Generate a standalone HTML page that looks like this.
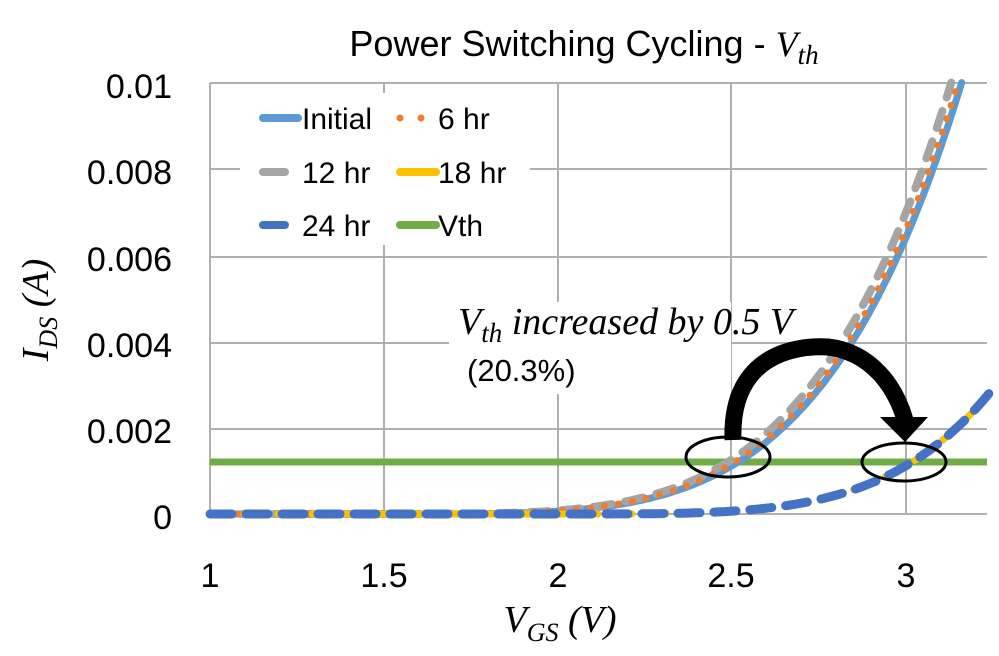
<!DOCTYPE html>
<html><head><meta charset="utf-8"><style>
html,body{margin:0;padding:0;background:#fff;}
svg{display:block}
.t{font-family:"Liberation Sans Narrow","Liberation Sans",sans-serif;fill:#000}
.s{font-family:"Liberation Serif",serif;font-style:italic;fill:#000}
</style></head><body>
<svg id="c" width="999" height="656" viewBox="0 0 999 656" xmlns="http://www.w3.org/2000/svg">
<rect width="999" height="656" fill="#fff"/>
<g stroke="#b0b0b0" stroke-width="2">
<line x1="210" y1="83" x2="987" y2="83"/>
<line x1="210" y1="169" x2="987" y2="169"/>
<line x1="210" y1="257" x2="987" y2="257"/>
<line x1="210" y1="343" x2="987" y2="343"/>
<line x1="210" y1="429" x2="987" y2="429"/>
<line x1="210" y1="514" x2="987" y2="514"/>
<line x1="210" y1="83" x2="210" y2="514"/>
<line x1="384" y1="83" x2="384" y2="514"/>
<line x1="558" y1="83" x2="558" y2="514"/>
<line x1="731" y1="83" x2="731" y2="514"/>
<line x1="906" y1="83" x2="906" y2="514"/>
</g>
<rect x="240" y="93" width="290" height="152" fill="#fff"/>
<rect x="449" y="302" width="282" height="92" fill="#fff"/>
<line x1="210" y1="462" x2="987" y2="462" stroke="#70ad47" stroke-width="7"/>
<g id="curves" fill="none" stroke-width="7"></g>
<path d="M733,440 C730,355 795,345 828,347 C870,352 895,385 905,420" fill="none" stroke="#000" stroke-width="17"/>
<polygon points="880,417 928,417 905,442" fill="#000"/>
<ellipse cx="728" cy="457" rx="42" ry="20" fill="none" stroke="#000" stroke-width="3"/>
<ellipse cx="904" cy="462" rx="42" ry="19" fill="none" stroke="#000" stroke-width="3"/>
<text x="584" y="56" class="t" font-size="36" text-anchor="middle">Power Switching Cycling - <tspan class="s">V</tspan><tspan class="s" font-size="27" dy="8">th</tspan></text>
<g class="t" font-size="34" text-anchor="end">
<text x="172" y="98">0.01</text>
<text x="172" y="184">0.008</text>
<text x="172" y="271">0.006</text>
<text x="172" y="357">0.004</text>
<text x="172" y="443">0.002</text>
<text x="172" y="529">0</text>
</g>
<g class="t" font-size="34" text-anchor="middle">
<text x="210" y="587">1</text>
<text x="384" y="587">1.5</text>
<text x="558" y="587">2</text>
<text x="731" y="587">2.5</text>
<text x="906" y="587">3</text>
</g>
<text x="560" y="632" class="s" font-size="38" text-anchor="middle">V<tspan font-size="26" dy="9">GS</tspan><tspan dy="-9"> (V)</tspan></text>
<text transform="translate(48,310) rotate(-90)" class="s" font-size="38" text-anchor="middle">I<tspan font-size="26" dy="9">DS</tspan><tspan dy="-9"> (A)</tspan></text>
<text x="458" y="334" class="s" font-size="38">V<tspan font-size="27" dy="8">th</tspan><tspan dy="-8"> increased by 0.5 V</tspan></text>
<text x="467" y="381" class="t" font-size="31">(20.3%)</text>
<g stroke-linecap="round" stroke-width="8">
<line x1="263" y1="118" x2="298" y2="118" stroke="#5b9bd5"/>
<line x1="400" y1="118" x2="400" y2="118" stroke="#ed7d31" stroke-width="7"/>
<line x1="421" y1="118" x2="421" y2="118" stroke="#ed7d31" stroke-width="7"/>
<line x1="263" y1="172" x2="285" y2="172" stroke="#a5a5a5"/>
<line x1="400" y1="172" x2="436" y2="172" stroke="#ffc000"/>
<line x1="263" y1="225" x2="285" y2="225" stroke="#4472c4"/>
<line x1="400" y1="225" x2="436" y2="225" stroke="#70ad47"/>
</g>
<g class="t" font-size="30">
<text x="302" y="129">Initial</text>
<text x="438" y="129">6 hr</text>
<text x="302" y="183">12 hr</text>
<text x="438" y="183">18 hr</text>
<text x="302" y="236">24 hr</text>
<text x="438" y="236">Vth</text>
</g>
</svg>
<script>
function I(v){var d=v-1.4;return d>0?0.00072*Math.pow(d,4.66):0;}
function X(v){return 210+(v-1)*348;}
function Y(i){return 514-i*43000;}
function path(shift){var p=[];for(var v=1;v<=3.24;v+=0.01){var i=I(v-shift);if(i>0.0101)break;p.push(X(v).toFixed(1)+","+Y(i).toFixed(1));}return "M"+p.join(" L");}
var g=document.getElementById("curves");
function add(shift,color,dash,w){var e=document.createElementNS("http://www.w3.org/2000/svg","path");e.setAttribute("d",path(shift));e.setAttribute("stroke",color);e.setAttribute("stroke-width",w);e.setAttribute("stroke-linecap","round");if(dash)e.setAttribute("stroke-dasharray",dash);g.appendChild(e);}
add(0,"#5b9bd5","",7);
add(-0.03,"#a5a5a5","18,14",8);
add(-0.01,"#ed7d31","0.1,14",7);
add(0.5,"#ffc000","14,20",7);
add(0.5,"#4472c4","22,14",9);
</script>
</body></html>
